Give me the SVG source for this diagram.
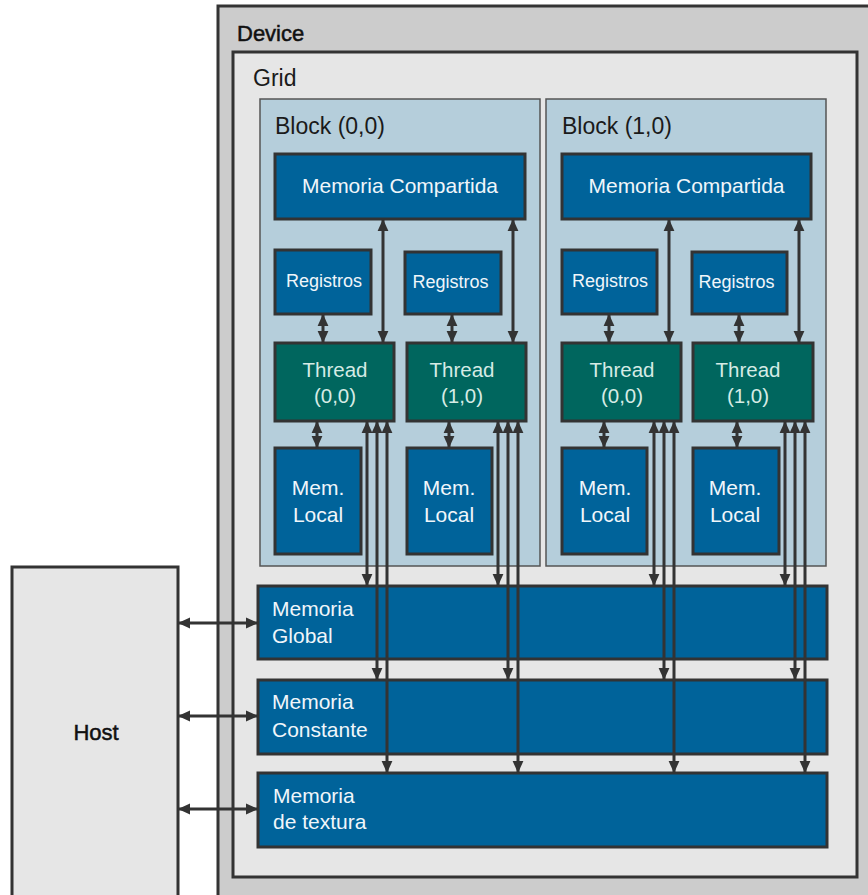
<svg xmlns="http://www.w3.org/2000/svg" width="868" height="895" viewBox="0 0 868 895">
<style>
text{font-family:"Liberation Sans",Arial,sans-serif}
.dev{fill:#cccccc;stroke:#333;stroke-width:3}
.grid{fill:#e6e6e6;stroke:#333;stroke-width:3}
.blk{fill:#b5cedb;stroke:#555;stroke-width:1.5}
.mem{fill:#00639a;stroke:#333;stroke-width:3}
.thr{fill:#00665e;stroke:#333;stroke-width:3}
.host{fill:#e6e6e6;stroke:#333;stroke-width:3}
.lbl{fill:#1a1a1a;font-size:23px}
.bold{fill:#111;font-size:22px;stroke:#111;stroke-width:0.5}
.wt{fill:#f0f6fa;font-size:21px}
.wc{fill:#f0f6fa;font-size:21px;text-anchor:middle}
.rg{fill:#f0f6fa;font-size:18px;text-anchor:middle}
.tt{fill:#d6ebe5;font-size:20.5px;text-anchor:middle}
.ar{stroke:#333;stroke-width:3;fill:none;marker-start:url(#ah);marker-end:url(#ah)}
</style>
<defs>
<marker id="ah" viewBox="0 0 10 10" refX="10" refY="5" markerUnits="userSpaceOnUse" markerWidth="12" markerHeight="12" orient="auto-start-reverse">
<path d="M0,0.5 L10,5 L0,9.5 z" fill="#333"/>
</marker>
</defs>
<g id="device">
<rect class="dev" x="218" y="6" width="670" height="910"/>
<text class="bold" x="237" y="41">Device</text>
</g>
<g id="grid">
<rect class="grid" x="233" y="52" width="624" height="825"/>
<text class="lbl" x="253" y="86">Grid</text>
</g>
<g id="block00">
<rect class="blk" x="260" y="99" width="280" height="467"/>
<text class="lbl" x="275" y="134">Block (0,0)</text>
</g>
<g id="block10">
<rect class="blk" x="546" y="99" width="280" height="467"/>
<text class="lbl" x="562" y="134">Block (1,0)</text>
</g>
<g id="shared0"><rect class="mem" x="275" y="154" width="250" height="65"/><text class="wc" x="400" y="193">Memoria Compartida</text></g>
<g id="shared1"><rect class="mem" x="562" y="154" width="249" height="65"/><text class="wc" x="686.5" y="193">Memoria Compartida</text></g>
<g id="reg00"><rect class="mem" x="275" y="250" width="96" height="64"/><text class="rg" x="324" y="287">Registros</text></g>
<g id="reg01"><rect class="mem" x="405" y="252" width="96" height="62"/><text class="rg" x="450.5" y="288">Registros</text></g>
<g id="reg10"><rect class="mem" x="562" y="250" width="95" height="64"/><text class="rg" x="610" y="287">Registros</text></g>
<g id="reg11"><rect class="mem" x="692" y="252" width="95" height="62"/><text class="rg" x="736.5" y="288">Registros</text></g>
<g id="thr00"><rect class="thr" x="275" y="343" width="119" height="78"/><text class="tt" x="335" y="377">Thread</text><text class="tt" x="335" y="403">(0,0)</text></g>
<g id="thr01"><rect class="thr" x="407" y="343" width="119" height="78"/><text class="tt" x="462" y="377">Thread</text><text class="tt" x="462" y="403">(1,0)</text></g>
<g id="thr10"><rect class="thr" x="562" y="343" width="119" height="78"/><text class="tt" x="622" y="377">Thread</text><text class="tt" x="622" y="403">(0,0)</text></g>
<g id="thr11"><rect class="thr" x="693" y="343" width="120" height="78"/><text class="tt" x="748" y="377">Thread</text><text class="tt" x="748" y="403">(1,0)</text></g>
<g id="loc00"><rect class="mem" x="275" y="448" width="86" height="106"/><text class="wc" x="318" y="495">Mem.</text><text class="wc" x="318" y="522">Local</text></g>
<g id="loc01"><rect class="mem" x="407" y="448" width="85" height="106"/><text class="wc" x="449" y="495">Mem.</text><text class="wc" x="449" y="522">Local</text></g>
<g id="loc10"><rect class="mem" x="562" y="448" width="85" height="106"/><text class="wc" x="605" y="495">Mem.</text><text class="wc" x="605" y="522">Local</text></g>
<g id="loc11"><rect class="mem" x="693" y="448" width="86" height="106"/><text class="wc" x="735" y="495">Mem.</text><text class="wc" x="735" y="522">Local</text></g>
<g id="global"><rect class="mem" x="258" y="586" width="569" height="73"/><text class="wt" x="272" y="616">Memoria</text><text class="wt" x="272" y="643">Global</text></g>
<g id="constant"><rect class="mem" x="258" y="680" width="569" height="74"/><text class="wt" x="272" y="709">Memoria</text><text class="wt" x="272" y="737">Constante</text></g>
<g id="texture"><rect class="mem" x="258" y="773" width="569" height="74"/><text class="wt" x="273" y="803">Memoria</text><text class="wt" x="273" y="829">de textura</text></g>
<g id="host"><rect class="host" x="12" y="567" width="166" height="350"/><text class="bold" x="96" y="740" text-anchor="middle">Host</text></g>
<g id="connectors">
<line class="ar" x1="383" y1="219" x2="383" y2="343"/>
<line class="ar" x1="513" y1="219" x2="513" y2="343"/>
<line class="ar" x1="669" y1="219" x2="669" y2="343"/>
<line class="ar" x1="799" y1="219" x2="799" y2="343"/>
<line class="ar" x1="323" y1="314" x2="323" y2="343"/>
<line class="ar" x1="452" y1="314" x2="452" y2="343"/>
<line class="ar" x1="609" y1="314" x2="609" y2="343"/>
<line class="ar" x1="739" y1="314" x2="739" y2="343"/>
<line class="ar" x1="317" y1="421" x2="317" y2="448"/>
<line class="ar" x1="449" y1="421" x2="449" y2="448"/>
<line class="ar" x1="604" y1="421" x2="604" y2="448"/>
<line class="ar" x1="737" y1="421" x2="737" y2="448"/>
<line class="ar" x1="367" y1="421" x2="367" y2="586"/>
<line class="ar" x1="377" y1="421" x2="377" y2="680"/>
<line class="ar" x1="387" y1="421" x2="387" y2="773"/>
<line class="ar" x1="498" y1="421" x2="498" y2="586"/>
<line class="ar" x1="508" y1="421" x2="508" y2="680"/>
<line class="ar" x1="518" y1="421" x2="518" y2="773"/>
<line class="ar" x1="654" y1="421" x2="654" y2="586"/>
<line class="ar" x1="664" y1="421" x2="664" y2="680"/>
<line class="ar" x1="674" y1="421" x2="674" y2="773"/>
<line class="ar" x1="785" y1="421" x2="785" y2="586"/>
<line class="ar" x1="795" y1="421" x2="795" y2="680"/>
<line class="ar" x1="805" y1="421" x2="805" y2="773"/>
<line class="ar" x1="178" y1="623" x2="258" y2="623"/>
<line class="ar" x1="178" y1="716" x2="258" y2="716"/>
<line class="ar" x1="178" y1="809" x2="258" y2="809"/>
</g>
</svg>
